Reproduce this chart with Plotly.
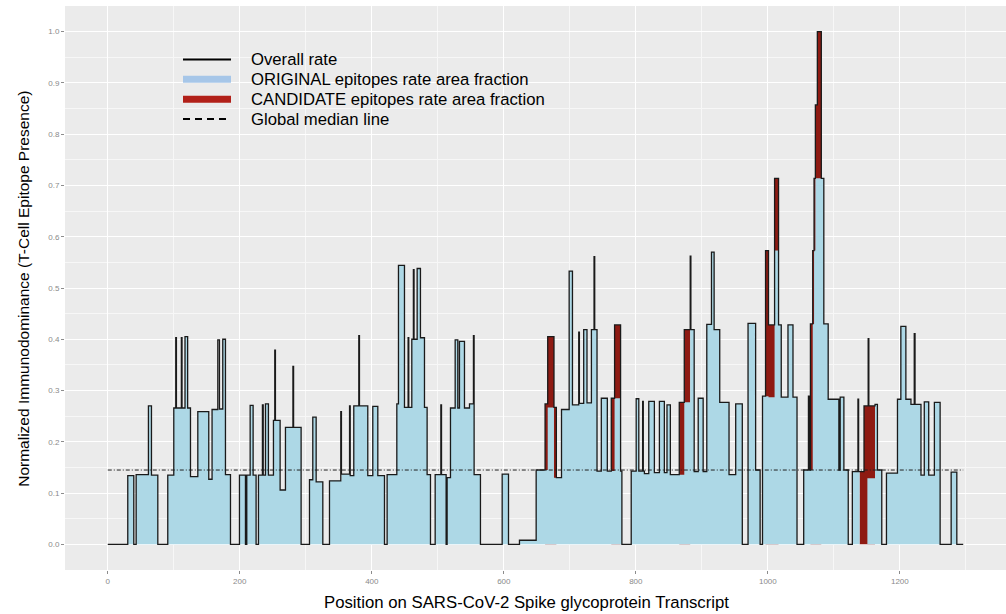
import plotly.graph_objects as go

# ---------------- data ----------------
# segment start positions along the spike transcript
seg_start = [
    0, 30.3, 39.4, 43, 61.6, 66.2, 75.8, 90.9, 100, 103, 104, 111.5, 112.5, 117, 121,
    125.3, 136.4, 153, 158, 166.7, 169.2, 174.2, 178.3, 185.9, 199.5, 208.6, 210.6,
    215.7, 220.2, 224.7, 228.3, 234.3, 235.5, 238.9, 243.4, 251, 253, 254, 261.1,
    269.2, 280.5, 281.5, 292.9, 305.6, 310.6, 315.7, 325.8, 335.9, 353, 354, 366.3,
    367.3, 372.7, 380.3, 381.3, 393.9, 401.5, 409.1, 419.2, 423.2, 437.9, 440.4,
    449.5, 455, 456, 460.6, 463, 464, 468.7, 473.7, 479.8, 483.8, 488.9, 496, 504.6,
    505.6, 512.6, 514.1, 519.2, 526.3, 530.3, 532.8, 540.4, 548, 554, 555, 564.6,
    597.5, 607.1, 623.7, 649, 662.5, 666.5, 676, 679.6, 687.4, 699, 704, 713.5,
    714.5, 721, 726, 732.7, 736.7, 737.7, 741.2, 747.7, 756.8, 762.8, 767.8, 776.9,
    778.9, 793, 800.5, 804.5, 810.3, 811.3, 813, 819.6, 828.1, 835.7, 843.2, 847.2,
    852.3, 865.8, 873.4, 882.4, 883.4, 888.4, 894.5, 902, 907.5, 914.6, 918.6, 927.1,
    941.2, 951.3, 961.3, 970, 981.5, 988.3, 991.9, 996.5, 1001, 1010.2, 1016.2,
    1020.3, 1030.5, 1038.1, 1044.2, 1054.3, 1061.5, 1062.5, 1064.5, 1068, 1070, 1072,
    1075, 1081, 1084.8, 1091.4, 1107.6, 1109.6, 1115.2, 1121.8, 1128, 1136.5, 1137.5,
    1139, 1145.7, 1150.8, 1152, 1153, 1162.4, 1166, 1172.6, 1179.7, 1196.4, 1201.5,
    1209.1, 1216.8, 1221.8, 1223, 1232, 1237, 1243.7, 1252.3, 1261, 1277.7, 1286.3,
]
seq_end = 1296

# overall normalized immunodominance rate per segment
overall = [
    0, 0.134, 0, 0.136, 0.27, 0.135, 0, 0.135, 0.266, 0.403, 0.266, 0.403, 0.266, 0.405, 0.266,
    0.132, 0.259, 0.127, 0.263, 0.399, 0.264, 0.40, 0.136, 0, 0.135, 0, 0.135,
    0.271, 0.135, 0, 0.135, 0.272, 0.135, 0.274, 0.135, 0.242, 0.379, 0.242, 0.106,
    0.228, 0.347, 0.228, 0, 0.126, 0.248, 0.122, 0, 0.124, 0.259, 0.137, 0.27,
    0.134, 0.27, 0.407, 0.27, 0.134, 0.269, 0.134, 0, 0.136, 0.274, 0.544,
    0.267, 0.403, 0.267, 0.40, 0.536, 0.40, 0.538, 0.403, 0.267, 0.136, 0, 0.136, 0.272,
    0.136, 0, 0.13, 0.266, 0.399, 0.266, 0.396, 0.266, 0.274, 0.407, 0.136, 0,
    0.137, 0, 0.008, 0.145, 0.274, 0.405, 0.267, 0.13, 0.263, 0.533, 0.272, 0.414,
    0.275, 0.419, 0.276, 0.419, 0.561, 0.419, 0.143, 0.285, 0.143, 0.285, 0.428, 0.143,
    0, 0.143, 0.284, 0.143, 0.279, 0.143, 0.138, 0.279, 0.14, 0.279, 0.14, 0.272,
    0.136, 0.277, 0.419, 0.562, 0.419, 0.142, 0.285, 0.142, 0.429, 0.57, 0.419, 0.277,
    0.136, 0.274, 0, 0.431, 0.145, 0, 0.289, 0.573, 0.428, 0.714, 0.428,
    0.287, 0.428, 0.287, 0, 0.145, 0.289, 0.145, 0.43, 0.573, 0.714, 0.857,
    1.0, 0.714, 0.43, 0.283, 0.145, 0.287, 0.145, 0, 0.142, 0.283, 0.142,
    0.142, 0.27, 0.27, 0.401, 0.27, 0.273, 0.145, 0, 0.139, 0.283, 0.425,
    0.283, 0.273, 0.411, 0.273, 0.135, 0.278, 0.135, 0.277, 0, 0.141, 0,
]

# ORIGINAL epitopes rate area fraction (blue area top)
original = [
    0, 0.134, 0, 0.136, 0.27, 0.135, 0, 0.135, 0.266, 0.266, 0.266, 0.266, 0.266, 0.405, 0.266,
    0.132, 0.259, 0.127, 0.263, 0.263, 0.264, 0.40, 0.136, 0, 0.135, 0, 0.135,
    0.271, 0.135, 0, 0.135, 0.135, 0.135, 0.274, 0.135, 0.242, 0.242, 0.242, 0.106,
    0.228, 0.228, 0.228, 0, 0.126, 0.248, 0.122, 0, 0.124, 0.124, 0.137, 0.137,
    0.134, 0.27, 0.27, 0.27, 0.134, 0.269, 0.134, 0, 0.136, 0.274, 0.544,
    0.267, 0.267, 0.267, 0.40, 0.40, 0.40, 0.538, 0.403, 0.267, 0.136, 0, 0.136, 0.136,
    0.136, 0, 0.13, 0.266, 0.399, 0.266, 0.396, 0.266, 0.274, 0.274, 0.136, 0,
    0.137, 0, 0.008, 0.145, 0.145, 0.267, 0.13, 0.13, 0.263, 0.533, 0.272, 0.272,
    0.275, 0.419, 0.276, 0.419, 0.419, 0.419, 0.143, 0.285, 0.143, 0.143, 0.285, 0.143,
    0, 0.143, 0.284, 0.143, 0.143, 0.143, 0.138, 0.279, 0.14, 0.279, 0.14, 0.272,
    0.136, 0.136, 0.277, 0.419, 0.419, 0.142, 0.285, 0.142, 0.429, 0.57, 0.419, 0.277,
    0.136, 0.274, 0, 0.431, 0.145, 0, 0.289, 0.289, 0.287, 0.573, 0.428,
    0.287, 0.428, 0.287, 0, 0.145, 0.145, 0.145, 0.145, 0.43, 0.573, 0.714,
    0.714, 0.714, 0.43, 0.283, 0.145, 0.287, 0.145, 0, 0.142, 0.142, 0.142,
    0, 0, 0.129, 0.129, 0.129, 0.273, 0.145, 0, 0.139, 0.283, 0.425,
    0.283, 0.273, 0.273, 0.273, 0.135, 0.278, 0.135, 0.277, 0, 0.141, 0,
]

# CANDIDATE epitopes rate area fraction (red area top, 0 where absent)
candidate = [
    0, 0, 0, 0, 0, 0, 0, 0, 0, 0, 0, 0, 0, 0, 0,
    0, 0, 0, 0, 0, 0, 0, 0, 0, 0, 0, 0,
    0, 0, 0, 0, 0, 0, 0, 0, 0, 0, 0, 0,
    0, 0, 0, 0, 0, 0, 0, 0, 0, 0, 0, 0,
    0, 0, 0, 0, 0, 0, 0, 0, 0, 0, 0,
    0, 0, 0, 0, 0, 0, 0, 0, 0, 0, 0, 0, 0,
    0, 0, 0, 0, 0, 0, 0, 0, 0, 0, 0, 0,
    0, 0, 0, 0, 0.274, 0.405, 0.267, 0, 0, 0, 0, 0,
    0, 0, 0, 0, 0, 0, 0, 0, 0, 0.285, 0.428, 0,
    0, 0, 0, 0, 0, 0, 0, 0, 0, 0, 0, 0,
    0, 0.277, 0.419, 0, 0, 0, 0, 0, 0, 0, 0, 0,
    0, 0, 0, 0, 0, 0, 0, 0.573, 0.428, 0.714, 0,
    0, 0, 0, 0, 0, 0, 0, 0.43, 0.573, 0.714, 0.857,
    1.0, 0, 0, 0, 0, 0, 0, 0, 0, 0, 0,
    0.142, 0.27, 0.27, 0.401, 0.27, 0, 0, 0, 0, 0, 0,
    0, 0, 0, 0, 0, 0, 0, 0, 0, 0, 0,
]

global_median = 0.145

x_ticks = [0, 200, 400, 600, 800, 1000, 1200]
y_ticks = [0.0, 0.1, 0.2, 0.3, 0.4, 0.5, 0.6, 0.7, 0.8, 0.9, 1.0]

legend_labels = [
    "Overall rate",
    "ORIGINAL epitopes rate area fraction",
    "CANDIDATE epitopes rate area fraction",
    "Global median line",
]

x_title = "Position on SARS-CoV-2 Spike glycoprotein Transcript"
y_title = "Normalized Immunodominance (T-Cell Epitope Presence)"

# ---------------- styles ----------------
BLUE_FILL = "#ADD8E6"
RED_FILL = "#8E1A12"
LINE_COL = "#1A1A1A"
LEG_BLUE = "#A6C6E8"
LEG_RED = "#B22019"
FONT = "Liberation Sans, Arial, Helvetica, sans-serif"

xs = list(seg_start) + [seq_end]


def stepped(vals):
    return list(vals) + [vals[-1]]


fig = go.Figure()

fig.add_trace(go.Scatter(
    x=xs, y=stepped(candidate), mode="lines", line=dict(shape="hv", width=0, color=RED_FILL),
    fill="tozeroy", fillcolor=RED_FILL, showlegend=False, hoverinfo="skip"))
fig.add_trace(go.Scatter(
    x=xs, y=stepped(original), mode="lines", line=dict(shape="hv", width=0, color=BLUE_FILL),
    fill="tozeroy", fillcolor=BLUE_FILL, showlegend=False, hoverinfo="skip"))
fig.add_trace(go.Scatter(
    x=[xs[0], xs[-1]], y=[global_median, global_median], mode="lines",
    line=dict(color="#222222", width=1, dash="4px,2px,1px,2px"), showlegend=False))
fig.add_trace(go.Scatter(
    x=xs, y=stepped(overall), mode="lines", line=dict(shape="hv", width=1.3, color=LINE_COL),
    showlegend=False))

# ---------------- manual legend (ggplot-style keys) ----------------
leg_key_x0, leg_key_x1, leg_text_x = 0.1254, 0.1764, 0.1956
leg_rows_y = [0.9051, 0.8700, 0.8346, 0.7996]
leg_styles = [
    dict(color="black", width=2),
    dict(color=LEG_BLUE, width=7),
    dict(color=LEG_RED, width=7),
    dict(color="black", width=2, dash="7px,5px"),
]
shapes = []
annotations = []
for lab, yy, st in zip(legend_labels, leg_rows_y, leg_styles):
    shapes.append(dict(type="line", xref="paper", yref="paper",
                       x0=leg_key_x0, x1=leg_key_x1, y0=yy, y1=yy, line=st))
    annotations.append(dict(text=lab, xref="paper", yref="paper", x=leg_text_x, y=yy,
                            xanchor="left", yanchor="middle", showarrow=False,
                            font=dict(size=16.7, color="black")))

annotations += [
    dict(text=x_title, xref="paper", yref="paper", x=0.49, y=-0.058,
         xanchor="center", yanchor="middle", showarrow=False,
         font=dict(size=16.75, color="black")),
    dict(text=y_title, xref="paper", yref="paper", x=-0.045, y=0.498,
         xanchor="center", yanchor="middle", textangle=-90, showarrow=False,
         font=dict(size=15.5, color="black")),
]

fig.update_layout(
    width=1006, height=614,
    margin=dict(l=65, r=0, t=6, b=44),
    paper_bgcolor="white", plot_bgcolor="#EBEBEB",
    font=dict(family=FONT, color="black"),
    showlegend=False,
    xaxis=dict(range=[-64.8, 1360.8], tickvals=x_ticks, ticktext=[str(v) for v in x_ticks],
               showgrid=True, gridcolor="white", gridwidth=1.1, zeroline=False,
               ticks="outside", ticklen=3, tickcolor="#8C8C8C", tickwidth=0.8,
               tickfont=dict(size=8, color="#8A8A8A"), showline=False,
               minor=dict(dtick=100, tick0=100, showgrid=True, gridcolor="#F7F7F7", gridwidth=0.5)),
    yaxis=dict(range=[-0.05, 1.05], tickvals=y_ticks, ticktext=[f"{v:.1f}" for v in y_ticks],
               showgrid=True, gridcolor="white", gridwidth=1.1, zeroline=False,
               ticks="outside", ticklen=3, tickcolor="#8C8C8C", tickwidth=0.8,
               tickfont=dict(size=8, color="#8A8A8A"), showline=False,
               minor=dict(dtick=0.05, tick0=0.05, showgrid=True, gridcolor="#F7F7F7", gridwidth=0.5)),
    shapes=shapes,
    annotations=annotations,
)

fig.write_html("out.html")
